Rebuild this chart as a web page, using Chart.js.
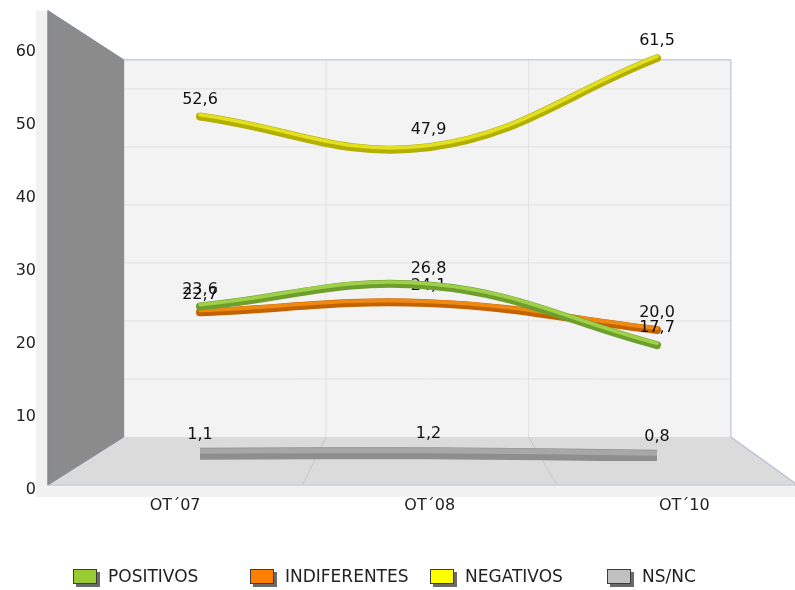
<!DOCTYPE html>
<html>
<head>
<meta charset="utf-8">
<script src="https://cdn.jsdelivr.net/npm/chart.js@4.4.0/dist/chart.umd.min.js"></script>
<style>
  html, body { margin: 0; padding: 0; background: #fff; }
  canvas { display: block; }
</style>
</head>
<body>
<canvas id="grafico" width="795" height="590"></canvas>
<script>
// DADOS
const categorias = ['OT´07', 'OT´08', 'OT´10'];
const positivos = [23.6, 26.8, 17.7];
const indiferentes = [22.7, 24.1, 20.0];
const negativos = [52.6, 47.9, 61.5];
const nsnc = [1.1, 1.2, 0.8];
const ticksY = [0, 10, 20, 30, 40, 50, 60];
const eixoMax = 65;

const FONTE = '"DejaVu Sans", Verdana, sans-serif';

// perspectiva: as linhas ficam no plano do meio (d = 0.5)
const VP = { x: 417.7, y: 250.8 };
function prof(d) { return 1 - 0.205 * d; }
function proj(mx, my, d) {
    const k = prof(d) / prof(0.5);
    return { x: VP.x + (mx - VP.x) * k, y: VP.y + (my - VP.y) * k };
}
function ponto(chart, fx, v, d) {
    const a = chart.chartArea;
    return proj(a.left + fx * (a.right - a.left), chart.scales.y.getPixelForValue(v), d);
}

function poly(ctx, pts, fill, stroke) {
    ctx.beginPath();
    ctx.moveTo(pts[0].x, pts[0].y);
    for (let i = 1; i < pts.length; i++) ctx.lineTo(pts[i].x, pts[i].y);
    ctx.closePath();
    if (fill) { ctx.fillStyle = fill; ctx.fill(); }
    if (stroke) { ctx.strokeStyle = stroke; ctx.lineWidth = 1; ctx.stroke(); }
}
function linha(ctx, p, q, cor, w) {
    ctx.beginPath();
    ctx.moveTo(p.x, p.y);
    ctx.lineTo(q.x, q.y);
    ctx.strokeStyle = cor;
    ctx.lineWidth = w || 1;
    ctx.stroke();
}

// paredes, chão e eixos
const cenario = {
    id: 'cenario',
    beforeDatasetsDraw(chart) {
        const ctx = chart.ctx;
        const P = (fx, v, d) => ponto(chart, fx, v, d);
        ctx.save();

        const f0 = P(0, 0, 0), fTop = P(0, eixoMax, 0);
        ctx.fillStyle = '#f1f1f1';
        ctx.fillRect(f0.x - 12, fTop.y, 12, f0.y - fTop.y + 12);
        ctx.fillRect(f0.x - 12, f0.y, chart.width, 12);

        // parede do fundo
        poly(ctx, [P(0, 0, 1), P(1, 0, 1), P(1, eixoMax, 1), P(0, eixoMax, 1)], '#f3f3f3');
        ticksY.forEach(function (t) {
            if (t > 0) linha(ctx, P(0, t, 1), P(1, t, 1), '#e1e1e1');
        });
        [1 / 3, 2 / 3].forEach(function (f) {
            linha(ctx, P(f, 0, 1), P(f, eixoMax, 1), '#e1e1e1');
        });
        linha(ctx, P(0, eixoMax, 1), P(1, eixoMax, 1), '#c6d0dd', 1.5);
        linha(ctx, P(1, 0, 1), P(1, eixoMax, 1), '#c6d0dd', 1.5);

        // chão
        const br = P(1, 0, 1);
        const fr = { x: br.x + (P(0, 0, 1).x - f0.x) * 0.88, y: f0.y };
        poly(ctx, [f0, fr, br, P(0, 0, 1)], '#dbdbdb');
        [1 / 3, 2 / 3].forEach(function (f) {
            linha(ctx, P(f, 0, 1), P(f, 0, 0), '#c6c6c6');
        });
        linha(ctx, f0, fr, '#c8d0db', 1.5);
        linha(ctx, br, fr, '#b9c3cf', 1.5);

        // parede esquerda
        poly(ctx, [P(0, 0, 0), P(0, 0, 1), P(0, eixoMax, 1), P(0, eixoMax, 0)], '#8b8b8b', '#7e8896');

        // rótulos do eixo Y
        ctx.fillStyle = '#222';
        ctx.font = '16px ' + FONTE;
        ctx.textAlign = 'right';
        ctx.textBaseline = 'middle';
        ticksY.forEach(function (t) {
            const p = P(0, t, 0);
            ctx.fillText(String(t), 36, p.y + 5);
        });

        // rótulos do eixo X
        ctx.textAlign = 'center';
        const xs = chart.scales.x;
        categorias.forEach(function (c, i) {
            const p = proj(xs.getPixelForValue(i), chart.scales.y.getPixelForValue(0), 0);
            ctx.fillText(c, p.x, 506);
        });
        ctx.restore();
    },
    afterDatasetDraw(chart, args) {
        const ctx = chart.ctx;
        const meta = args.meta;
        const ds = chart.data.datasets[args.index];
        ctx.save();
        // brilho por cima da linha
        ctx.translate(0, -ds.borderWidth * 0.22);
        ctx.beginPath();
        meta.dataset.path(ctx);
        ctx.strokeStyle = ds.clara;
        ctx.lineWidth = ds.borderWidth * 0.45;
        ctx.lineCap = ds.borderCapStyle;
        ctx.lineJoin = 'round';
        ctx.stroke();
        ctx.restore();

        ctx.save();
        ctx.fillStyle = '#111';
        ctx.font = '16px ' + FONTE;
        ctx.textAlign = 'center';
        ctx.textBaseline = 'middle';
        meta.data.forEach(function (pt, j) {
            const txt = ds.data[j].toFixed(1).replace('.', ',');
            ctx.fillText(txt, pt.x, pt.y - ds.borderWidth / 2 - 13);
        });
        ctx.restore();
    },
    afterDraw(chart) {
        // legenda
        const ctx = chart.ctx;
        const posLegenda = [73, 250, 430, 607];
        const yC = 577;
        ctx.save();
        ctx.font = '17px ' + FONTE;
        ctx.textAlign = 'left';
        ctx.textBaseline = 'middle';
        chart.data.datasets.forEach(function (ds, i) {
            const x = posLegenda[i];
            ctx.fillStyle = '#6a6a6a';
            ctx.fillRect(x + 3, yC - 5, 24, 15);
            ctx.fillStyle = ds.backgroundColor;
            ctx.fillRect(x, yC - 8, 24, 15);
            ctx.strokeStyle = '#3c3c3c';
            ctx.lineWidth = 1;
            ctx.strokeRect(x + 0.5, yC - 7.5, 23, 14);
            ctx.fillStyle = '#222';
            ctx.fillText(ds.label, x + 35, yC + 1);
        });
        ctx.restore();
    }
};

function serie(label, data, cor, escura, clara, largura, ponta) {
    return {
        label: label,
        data: data,
        backgroundColor: cor,
        borderColor: escura,
        clara: clara,
        borderWidth: largura,
        tension: 0.4,
        pointRadius: 0,
        pointHoverRadius: 0,
        borderCapStyle: ponta,
        borderJoinStyle: 'round',
        fill: false
    };
}

new Chart(document.getElementById('grafico'), {
    type: 'line',
    data: {
        labels: categorias,
        datasets: [
            serie('POSITIVOS', positivos, '#99cc33', '#6e9e2c', '#9fd04a', 8, 'round'),
            serie('INDIFERENTES', indiferentes, '#ff7f00', '#c46200', '#ee8a12', 8, 'round'),
            serie('NEGATIVOS', negativos, '#ffff00', '#b3af00', '#e2e020', 8, 'round'),
            serie('NS/NC', nsnc, '#c0c0c0', '#8e8e8e', '#a8a8a8', 12, 'butt')
        ]
    },
    options: {
        responsive: false,
        animation: false,
        layout: { padding: { left: 85.75, right: 23.75, top: 35.2, bottom: 129 } },
        plugins: { legend: { display: false }, tooltip: { enabled: false } },
        scales: {
            x: { type: 'category', offset: true, display: false },
            y: { min: 0, max: eixoMax, display: false }
        }
    },
    plugins: [cenario]
});
</script>
</body>
</html>
